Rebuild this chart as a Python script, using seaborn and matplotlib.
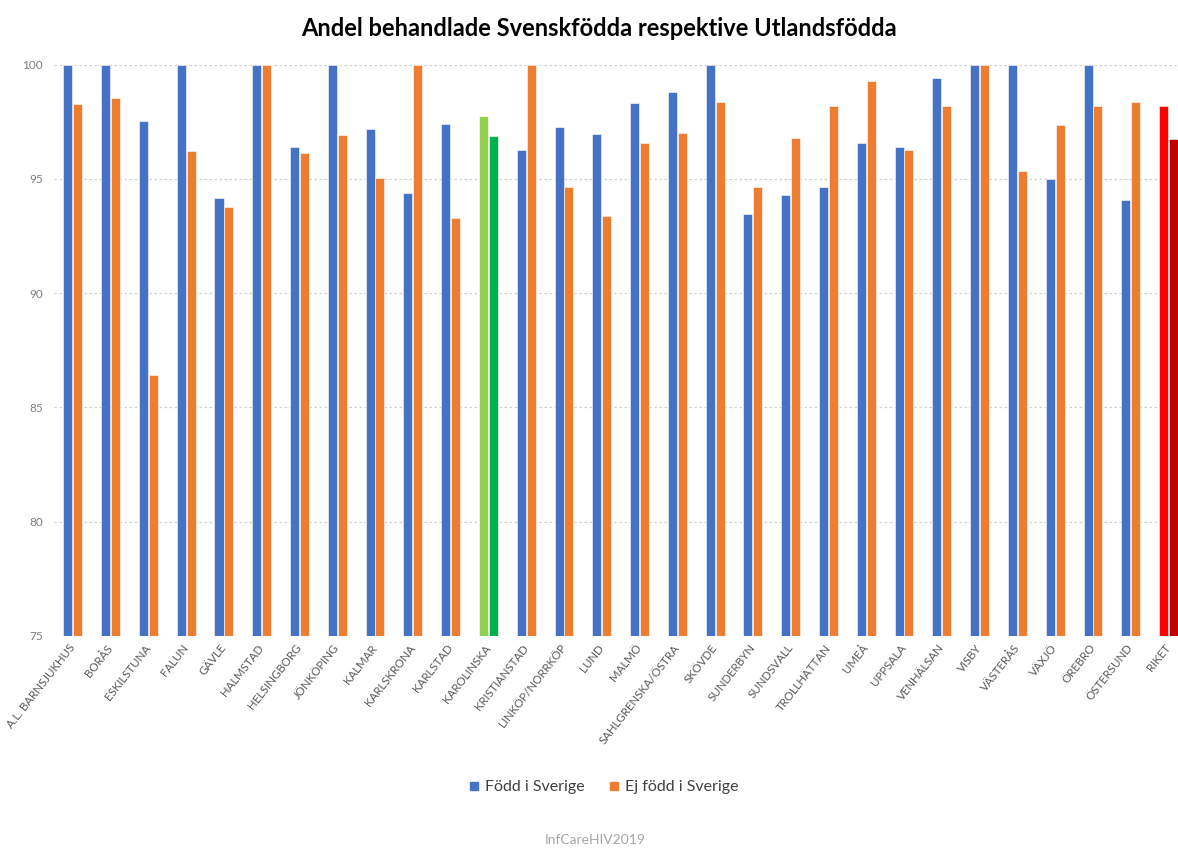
import matplotlib
matplotlib.use("Agg")
import matplotlib.pyplot as plt
from matplotlib import font_manager
from matplotlib.lines import Line2D
import seaborn as sns
import pandas as pd

# --- data -----------------------------------------------------------------
categories = [
    "A.L. BARNSJUKHUS", "BORÅS", "ESKILSTUNA", "FALUN", "GÄVLE", "HALMSTAD",
    "HELSINGBORG", "JÖNKÖPING", "KALMAR", "KARLSKRONA", "KARLSTAD",
    "KAROLINSKA", "KRISTIANSTAD", "LINKÖP/NORRKÖP", "LUND", "MALMÖ",
    "SAHLGRENSKA/ÖSTRA", "SKÖVDE", "SUNDERBYN", "SUNDSVALL", "TROLLHÄTTAN",
    "UMEÅ", "UPPSALA", "VENHÄLSAN", "VISBY", "VÄSTERÅS", "VÄXJÖ", "ÖREBRO",
    "ÖSTERSUND", "RIKET",
]
fodd_i_sverige = [
    100, 100, 97.55, 100, 94.17, 100, 96.38, 100, 97.16, 94.4, 97.4, 97.75,
    96.25, 97.27, 96.96, 98.3, 98.79, 100, 93.48, 94.27, 94.65, 96.57, 96.4,
    99.42, 100, 100, 95.0, 100, 94.07, 98.18,
]
ej_fodd_i_sverige = [
    98.27, 98.52, 86.4, 96.23, 93.75, 100, 96.14, 96.92, 95.05, 100, 93.29,
    96.86, 100, 94.64, 93.39, 96.57, 97.0, 98.37, 94.65, 96.79, 98.18, 99.27,
    96.25, 98.18, 100, 95.36, 97.37, 98.18, 98.37, 96.72,
]
series_names = ["Född i Sverige", "Ej född i Sverige"]
y_ticks = [75, 80, 85, 90, 95, 100]
title = "Andel behandlade Svenskfödda respektive Utlandsfödda"
source = "InfCareHIV2019"

# --- styling --------------------------------------------------------------
BLUE, ORANGE = "#4472C4", "#ED7D31"
highlight = {  # category -> (first series colour, second series colour)
    "KAROLINSKA": ("#92D050", "#00B050"),
    "RIKET": ("#FF0000", "#C00000"),
}


def pick_family(candidates):
    for fam in candidates:
        try:
            font_manager.findfont(font_manager.FontProperties(family=fam),
                                  fallback_to_default=False)
            return fam
        except Exception:
            continue
    return "DejaVu Sans"


sns.set_theme(style="white")
FONT = pick_family(["Liberation Sans Narrow", "Lato", "Open Sans"])
plt.rcParams["font.family"] = [FONT, "DejaVu Sans"]

df = pd.DataFrame({
    "category": categories * 2,
    "value": fodd_i_sverige + ej_fodd_i_sverige,
    "series": [series_names[0]] * len(categories) + [series_names[1]] * len(categories),
})

W, H = 1178, 849
fig = plt.figure(figsize=(W / 100, H / 100), dpi=100)
left_px, right_px = 53.9, 1187.4
top_px, bottom_px = 64.5, 636.0
ax = fig.add_axes([left_px / W, 1 - bottom_px / H,
                   (right_px - left_px) / W, (bottom_px - top_px) / H])

sns.barplot(data=df, x="category", y="value", hue="series",
            order=categories, hue_order=series_names,
            palette=[BLUE, ORANGE], saturation=1, width=0.52, gap=0.08,
            edgecolor="white", linewidth=0.4, errorbar=None,
            legend=False, ax=ax, zorder=3)

for idx, cat in enumerate(categories):
    if cat in highlight:
        c1, c2 = highlight[cat]
        ax.containers[0][idx].set_facecolor(c1)
        ax.containers[1][idx].set_facecolor(c2)

ax.set_ylim(75, 100)
ax.set_xlim(-0.5, len(categories) - 0.5)
ax.set_yticks(y_ticks)
ax.set_yticklabels([str(t) for t in y_ticks], color="#7f7f7f", fontsize=8.5)
ax.tick_params(axis="y", length=0, pad=8)
ax.tick_params(axis="x", length=0, pad=7)
ax.set_xlabel("")
ax.set_ylabel("")
ax.set_xticks(range(len(categories)))
ax.set_xticklabels(categories, rotation=52, ha="right", va="center",
                   rotation_mode="anchor", fontsize=8.3, color="#595959")

for s in ax.spines.values():
    s.set_visible(False)
ax.yaxis.grid(True, color="#d0d0d0", linestyle=(0, (2, 2)), linewidth=0.9,
              zorder=0)
ax.xaxis.grid(False)
ax.set_axisbelow(True)

fig.text(599 / W, 1 - 29 / H, title, ha="center", va="center",
         fontsize=17, fontweight="bold", color="#000000")

handles = [Line2D([], [], marker="s", linestyle="none", markersize=6,
                  markerfacecolor=c, markeredgecolor=c)
           for c in (BLUE, ORANGE)]
fig.legend(handles, series_names, loc="center", ncol=2,
           bbox_to_anchor=(603 / W, 1 - 787 / H), frameon=False,
           fontsize=11.5, handlelength=0.8, handletextpad=0.3,
           columnspacing=1.4, labelcolor="#404040")

fig.text(595 / W, 1 - 840 / H, source, ha="center", va="center",
         fontsize=10, color="#a6a6a6")

fig.savefig("out.png", dpi=100)
